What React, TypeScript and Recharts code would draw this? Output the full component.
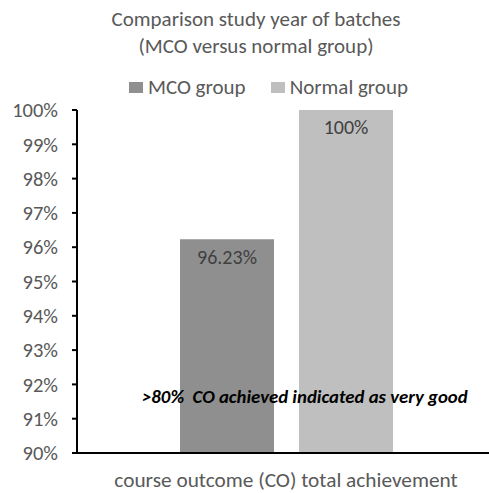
import { BarChart, Bar, XAxis, YAxis, Legend, LabelList } from 'recharts'

// values
const categories = ['course outcome (CO) total achievement']
const seriesNames = ['MCO group', 'Normal group']
const mcoValues = [96.23]
const normalValues = [100]
const yTicks = [90, 91, 92, 93, 94, 95, 96, 97, 98, 99, 100]
const colors = ['#8f8f8f', '#bfbfbf']

const data = categories.map((name, i) => ({
  name,
  mco: mcoValues[i],
  normal: normalValues[i],
}))

const font = 'Carlito, Lato, "Open Sans", sans-serif'

function LegendContent() {
  return (
    <div style={{ display: 'flex', justifyContent: 'center', gap: 25, fontFamily: font, fontSize: 21, color: '#595959' }}>
      {seriesNames.map((s, i) => (
        <div key={s} style={{ display: 'flex', alignItems: 'center' }}>
          <span style={{ display: 'inline-block', width: 14, height: 11, background: colors[i], marginRight: 5 }} />
          {s}
        </div>
      ))}
    </div>
  )
}

function XTick(props: any) {
  const { x, payload } = props
  return (
    <text x={x} y={487} textAnchor="middle" fill="#595959" fontSize={21.3} fontFamily={font}>
      {payload.value}
    </text>
  )
}

export default function App() {
  return (
    <div style={{ position: 'absolute', left: 0, top: 0, width: 489, height: 493, background: '#fff', overflow: 'hidden' }}>
      <div
        style={{
          position: 'absolute', top: 6, left: 0, width: 512, textAlign: 'center',
          fontFamily: font, fontSize: 21, lineHeight: '27px', color: '#595959',
        }}
      >
        Comparison study year of batches
        <br />
        (MCO versus normal group)
      </div>
      <BarChart
        width={489}
        height={493}
        data={data}
        margin={{ top: 110, right: -6, left: 0, bottom: 0 }}
        barCategoryGap={103}
        barGap={25}
      >
        <XAxis
          dataKey="name"
          height={40}
          axisLine={{ stroke: '#000', strokeWidth: 2 }}
          tickLine={false}
          tick={<XTick />}
          interval={0}
        />
        <YAxis
          width={77}
          domain={[90, 100]}
          ticks={yTicks}
          allowDataOverflow
          tickFormatter={(v: number) => `${v}%`}
          axisLine={{ stroke: '#000', strokeWidth: 2 }}
          tickLine={{ stroke: '#000', strokeWidth: 2 }}
          tickSize={5}
          tickMargin={14}
          tick={{ fill: '#595959', fontSize: 20.5, fontFamily: font }}
        />
        <Legend
          layout="horizontal"
          verticalAlign="middle"
          align="center"
          wrapperStyle={{ top: 74, left: 24, width: 489 }}
          content={<LegendContent />}
        />
        <Bar dataKey="mco" name={seriesNames[0]} fill={colors[0]} barSize={94} isAnimationActive={false}>
          <LabelList
            dataKey="mco"
            position="insideTop"
            offset={10}
            formatter={(v: any) => `${v}%`}
            fill="#404040"
            fontSize={20}
            fontFamily={font}
          />
        </Bar>
        <Bar dataKey="normal" name={seriesNames[1]} fill={colors[1]} barSize={94} isAnimationActive={false}>
          <LabelList
            dataKey="normal"
            position="insideTop"
            offset={10}
            formatter={(v: any) => `${v}%`}
            fill="#404040"
            fontSize={20}
            fontFamily={font}
          />
        </Bar>
      </BarChart>
      <div
        style={{
          position: 'absolute', top: 385, left: 142, whiteSpace: 'pre',
          fontFamily: font, fontSize: 18.8, fontWeight: 'bold', fontStyle: 'italic', color: '#000',
        }}
      >
        {'>80%  CO achieved indicated as very good'}
      </div>
    </div>
  )
}
